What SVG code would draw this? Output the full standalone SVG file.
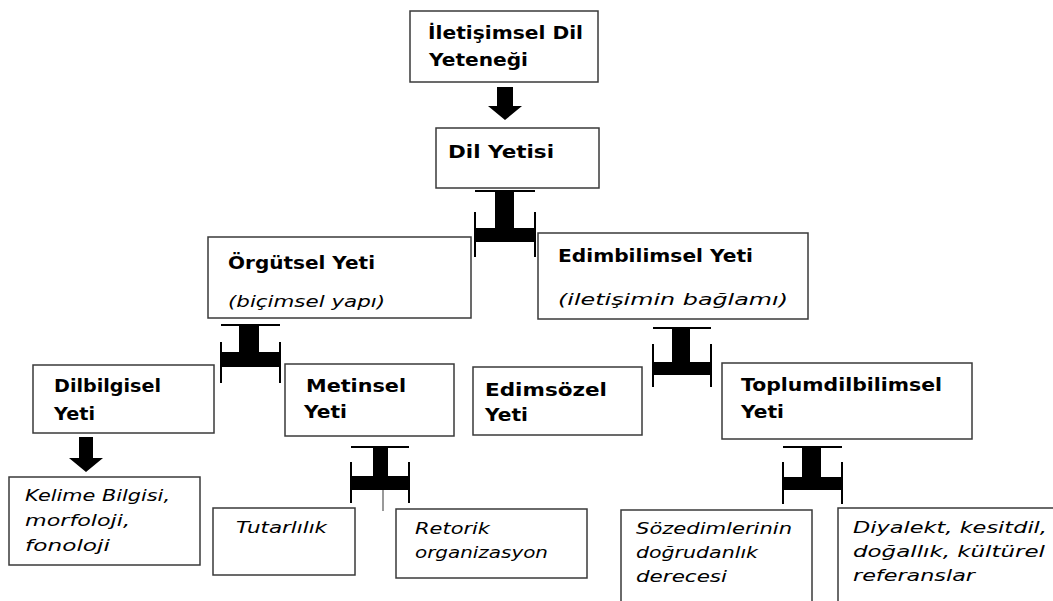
<svg xmlns="http://www.w3.org/2000/svg" width="1053" height="601" viewBox="0 0 1053 601">
<style>
.box{fill:#fff;stroke:#3a3a3a;stroke-width:1.5}
.b{font-family:"DejaVu Sans",Verdana,sans-serif;font-weight:bold;font-size:18.5px;fill:#000}
.i{font-family:"DejaVu Sans",Verdana,sans-serif;font-style:italic;font-size:16.5px;fill:#000}
.ink{fill:#000}
.thin{stroke:#000;stroke-width:2;fill:none}
.hair{stroke:#555;stroke-width:1.2;fill:none}
</style>
<rect width="1053" height="601" fill="#fff"/>
<g id="connectors">
  <path class="ink" d="M497,87 H513 V106 H522 L505,120 L488,106 H497 Z"/>
  <path class="ink" d="M79,437 H93 V458 H103 L86,472 L69,458 H79 Z"/>
  <g id="tee1">
    <path class="thin" d="M475,191 H535 M475,212 V257 M535,212 V257"/>
    <rect class="ink" x="495" y="191" width="19" height="38"/>
    <rect class="ink" x="475" y="228" width="60" height="14"/>
  </g>
  <g id="tee2">
    <path class="thin" d="M221,325 H280 M221,342 V383 M280,342 V383"/>
    <rect class="ink" x="239" y="325" width="20" height="28"/>
    <rect class="ink" x="221" y="352" width="59" height="15"/>
  </g>
  <g id="tee3">
    <path class="thin" d="M653,328 H711 M653,344 V387 M711,344 V387"/>
    <rect class="ink" x="672" y="328" width="18" height="35"/>
    <rect class="ink" x="653" y="362" width="58" height="13"/>
  </g>
  <g id="tee4">
    <path class="thin" d="M351,447 H409 M351,462 V503 M409,462 V503"/>
    <rect class="ink" x="373" y="447" width="15" height="30"/>
    <rect class="ink" x="351" y="476" width="58" height="14"/>
    <path class="hair" d="M383,490 V511"/>
  </g>
  <g id="tee5">
    <path class="thin" d="M783,447 H842 M783,462 V504 M842,462 V504"/>
    <rect class="ink" x="802" y="447" width="19" height="31"/>
    <rect class="ink" x="783" y="477" width="59" height="13"/>
  </g>
</g>
<g id="iletisimsel">
  <rect class="box" x="410" y="11" width="188" height="71"/>
  <text class="b" x="428" y="39" textLength="155" lengthAdjust="spacingAndGlyphs">İletişimsel Dil</text>
  <text class="b" x="429" y="66" textLength="99" lengthAdjust="spacingAndGlyphs">Yeteneği</text>
</g>
<g id="dilyetisi">
  <rect class="box" x="436" y="128" width="163" height="60"/>
  <text class="b" x="448" y="158" textLength="106" lengthAdjust="spacingAndGlyphs">Dil Yetisi</text>
</g>
<g id="orgutsel">
  <rect class="box" x="208" y="237" width="263" height="81"/>
  <text class="b" x="228" y="269" textLength="147" lengthAdjust="spacingAndGlyphs">Örgütsel Yeti</text>
  <text class="i" x="228" y="307" textLength="157" lengthAdjust="spacingAndGlyphs">(biçimsel yapı)</text>
</g>
<g id="edimbilimsel">
  <rect class="box" x="538" y="233" width="270" height="86"/>
  <text class="b" x="558" y="262" textLength="195" lengthAdjust="spacingAndGlyphs">Edimbilimsel Yeti</text>
  <text class="i" x="558" y="305" textLength="230" lengthAdjust="spacingAndGlyphs">(iletişimin bağlamı)</text>
</g>
<g id="dilbilgisel">
  <rect class="box" x="33" y="365" width="181" height="68"/>
  <text class="b" x="54" y="392" textLength="107" lengthAdjust="spacingAndGlyphs">Dilbilgisel</text>
  <text class="b" x="54" y="420" textLength="41" lengthAdjust="spacingAndGlyphs">Yeti</text>
</g>
<g id="metinsel">
  <rect class="box" x="285" y="364" width="169" height="72"/>
  <text class="b" x="306" y="392" textLength="100" lengthAdjust="spacingAndGlyphs">Metinsel</text>
  <text class="b" x="304" y="418" textLength="43" lengthAdjust="spacingAndGlyphs">Yeti</text>
</g>
<g id="edimsozel">
  <rect class="box" x="473" y="367" width="169" height="68"/>
  <text class="b" x="485" y="396" textLength="122" lengthAdjust="spacingAndGlyphs">Edimsözel</text>
  <text class="b" x="485" y="421" textLength="43" lengthAdjust="spacingAndGlyphs">Yeti</text>
</g>
<g id="toplumdilbilimsel">
  <rect class="box" x="722" y="363" width="250" height="76"/>
  <text class="b" x="741" y="391" textLength="201" lengthAdjust="spacingAndGlyphs">Toplumdilbilimsel</text>
  <text class="b" x="741" y="418" textLength="43" lengthAdjust="spacingAndGlyphs">Yeti</text>
</g>
<g id="kelime">
  <rect class="box" x="9" y="477" width="191" height="88"/>
  <text class="i" x="25" y="501" textLength="145" lengthAdjust="spacingAndGlyphs">Kelime Bilgisi,</text>
  <text class="i" x="25" y="526" textLength="105" lengthAdjust="spacingAndGlyphs">morfoloji,</text>
  <text class="i" x="25" y="551" textLength="85" lengthAdjust="spacingAndGlyphs">fonoloji</text>
</g>
<g id="tutarlilik">
  <rect class="box" x="213" y="508" width="142" height="67"/>
  <text class="i" x="236" y="533" textLength="91" lengthAdjust="spacingAndGlyphs">Tutarlılık</text>
</g>
<g id="retorik">
  <rect class="box" x="396" y="509" width="191" height="69"/>
  <text class="i" x="415" y="534" textLength="75" lengthAdjust="spacingAndGlyphs">Retorik</text>
  <text class="i" x="415" y="558" textLength="133" lengthAdjust="spacingAndGlyphs">organizasyon</text>
</g>
<g id="sozedimleri">
  <rect class="box" x="621" y="510" width="191" height="100"/>
  <text class="i" x="636" y="534" textLength="156" lengthAdjust="spacingAndGlyphs">Sözedimlerinin</text>
  <text class="i" x="636" y="558" textLength="122" lengthAdjust="spacingAndGlyphs">doğrudanlık</text>
  <text class="i" x="636" y="582" textLength="91" lengthAdjust="spacingAndGlyphs">derecesi</text>
</g>
<g id="diyalekt">
  <rect class="box" x="838" y="508" width="230" height="100"/>
  <text class="i" x="853" y="533" textLength="194" lengthAdjust="spacingAndGlyphs">Diyalekt, kesitdil,</text>
  <text class="i" x="853" y="557" textLength="192" lengthAdjust="spacingAndGlyphs">doğallık, kültürel</text>
  <text class="i" x="853" y="581" textLength="122" lengthAdjust="spacingAndGlyphs">referanslar</text>
</g>
</svg>
